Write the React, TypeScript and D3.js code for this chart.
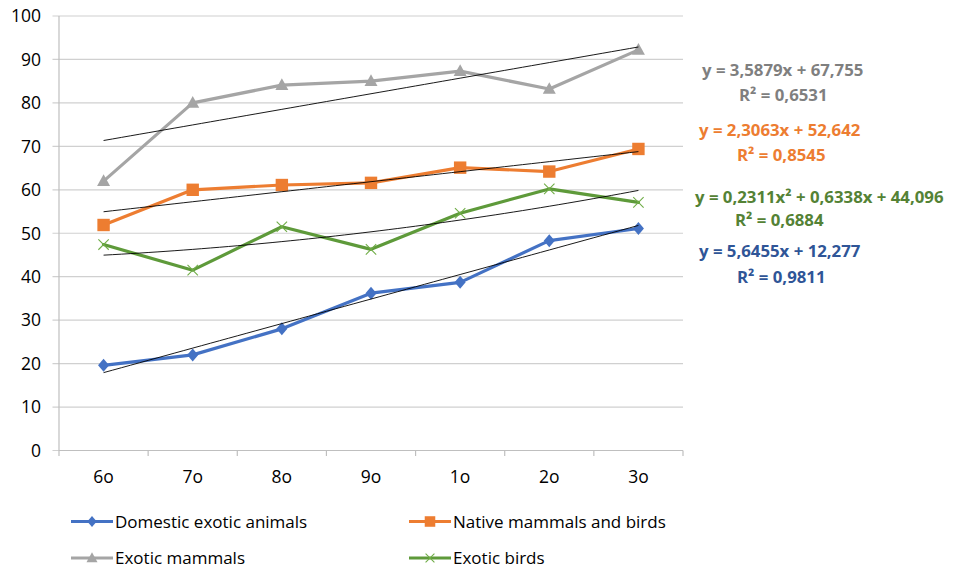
import React, { useEffect } from 'react';
import * as d3 from 'd3';

const categories = ['6o', '7o', '8o', '9o', '1o', '2o', '3o'];
const domesticExotic = [19.6, 22.0, 28.0, 36.2, 38.7, 48.3, 51.1];
const nativeMammalsBirds = [51.9, 60.0, 61.1, 61.6, 65.1, 64.2, 69.4];
const exoticMammals = [62.0, 80.0, 84.1, 85.0, 87.3, 83.2, 92.2];
const exoticBirds = [47.4, 41.5, 51.5, 46.3, 54.6, 60.2, 57.1];
const yTicks = [0, 10, 20, 30, 40, 50, 60, 70, 80, 90, 100];
const seriesNames = ['Domestic exotic animals', 'Native mammals and birds', 'Exotic mammals', 'Exotic birds'];
// trendline coefficients [x^2, x, const]
const trendDomestic = [0, 5.6455, 12.277];
const trendNative = [0, 2.3063, 52.642];
const trendExoticMammals = [0, 3.5879, 67.755];
const trendExoticBirds = [0.2311, 0.6338, 44.096];
const equations = ['y = 5,6455x + 12,277', 'y = 2,3063x + 52,642', 'y = 3,5879x + 67,755', 'y = 0,2311x² + 0,6338x + 44,096'];
const rSquared = ['R² = 0,9811', 'R² = 0,8545', 'R² = 0,6531', 'R² = 0,6884'];

const W = 954;
const H = 569;
const FONT = '"Open Sans", sans-serif';

const lineColors = ['#4472C4', '#ED7D31', '#A5A5A5', '#5E9A3A'];
const textColors = ['#2F5597', '#ED7D31', '#7F7F7F', '#548235'];
const markers = ['diamond', 'square', 'triangle', 'x'];
// equation label layout: [x line1, baseline line1, x line2, baseline line2]
const eqLayout = [
  [699, 257, 737, 283],
  [699, 136, 737, 161],
  [702, 76, 739, 101],
  [695, 203, 735, 226],
];
const legendLayout = [
  [71, 521.5],
  [409, 521.5],
  [71, 558],
  [409, 558],
];

function Marker({ type, x, y, color, s = 1 }: { type: string; x: number; y: number; color: string; s?: number }) {
  if (type === 'diamond') {
    const r = 6.5 * s;
    return <path d={`M${x},${y - r}L${x + r * 0.85},${y}L${x},${y + r}L${x - r * 0.85},${y}Z`} fill={color} />;
  }
  if (type === 'square') {
    const r = 6.2 * s;
    return <rect x={x - r} y={y - r} width={2 * r} height={2 * r} fill={color} />;
  }
  if (type === 'triangle') {
    const r = 6.5 * s;
    return <path d={`M${x},${y - r * 1.05}L${x + r},${y + r * 0.75}L${x - r},${y + r * 0.75}Z`} fill={color} />;
  }
  const r = 5.2 * s;
  return (
    <path
      d={`M${x - r},${y - r}L${x + r},${y + r}M${x - r},${y + r}L${x + r},${y - r}`}
      stroke="#70AD47"
      strokeWidth={1.1}
      fill="none"
    />
  );
}

export default function App() {
  useEffect(() => {
    document.body.style.margin = '0';
  }, []);

  const left = 59;
  const right = 683;
  const top = 16;
  const bottom = 450.5;

  const x = d3.scaleBand<string>().domain(categories).range([left, right]);
  const bw = x.bandwidth();
  const cx = (c: string) => (x(c) as number) + bw / 2;
  const xi = d3.scaleLinear().domain([1, categories.length]).range([cx(categories[0]), cx(categories[categories.length - 1])]);
  const y = d3.scaleLinear().domain([0, 100]).range([bottom, top]);

  const series = [domesticExotic, nativeMammalsBirds, exoticMammals, exoticBirds];
  const trends = [trendDomestic, trendNative, trendExoticMammals, trendExoticBirds];

  const line = d3
    .line<number>()
    .x((_, i) => cx(categories[i]))
    .y((d) => y(d));

  const samples = d3.range(1, categories.length + 0.0001, 0.1);

  const drawOrder = [2, 1, 3, 0];

  return (
    <svg width={W} height={H} style={{ display: 'block', background: '#fff' }} fontFamily={FONT}>
      {/* gridlines */}
      {yTicks.map((t) => (
        <line key={t} x1={left - 6.5} x2={right} y1={y(t)} y2={y(t)} stroke="#D0D0D0" strokeWidth={1.2} />
      ))}
      {/* y axis */}
      <line x1={left} x2={left} y1={top} y2={bottom} stroke="#BFBFBF" strokeWidth={1.2} />
      {/* x axis */}
      <line x1={left} x2={right} y1={bottom} y2={bottom} stroke="#BFBFBF" strokeWidth={1.2} />
      {categories.map((c, i) => (
        <line key={'tk' + i} x1={x(c) as number} x2={x(c) as number} y1={bottom} y2={bottom + 5.5} stroke="#BFBFBF" strokeWidth={1.2} />
      ))}
      <line x1={right} x2={right} y1={bottom} y2={bottom + 5.5} stroke="#BFBFBF" strokeWidth={1.2} />
      {yTicks.map((t) => (
        <text key={'yl' + t} x={41} y={y(t)} dy="0.36em" textAnchor="end" fontSize={17.5} fill="#000">
          {t}
        </text>
      ))}
      {categories.map((c) => (
        <text key={'xl' + c} x={cx(c)} y={483} textAnchor="middle" fontSize={17.5} fill="#000">
          {c}
        </text>
      ))}

      {/* series */}
      {drawOrder.map((si) => (
        <g key={'s' + si}>
          <path d={line(series[si]) as string} fill="none" stroke={lineColors[si]} strokeWidth={3.2} strokeLinejoin="round" strokeLinecap="round" />
          {series[si].map((v, i) => (
            <Marker key={i} type={markers[si]} x={cx(categories[i])} y={y(v)} color={lineColors[si]} />
          ))}
        </g>
      ))}

      {/* trendlines */}
      {trends.map((tc, si) => {
        const path = d3
          .line<number>()
          .x((t) => xi(t))
          .y((t) => y(tc[0] * t * t + tc[1] * t + tc[2]))(samples as number[]);
        return <path key={'tr' + si} d={path as string} fill="none" stroke="#000" strokeWidth={0.9} />;
      })}

      {/* equation labels */}
      {equations.map((eq, si) => (
        <g key={'eq' + si} fontWeight="bold" fontSize={16.8} fill={textColors[si]}>
          <text x={eqLayout[si][0]} y={eqLayout[si][1]}>{eq}</text>
          <text x={eqLayout[si][2]} y={eqLayout[si][3]}>{rSquared[si]}</text>
        </g>
      ))}

      {/* legend */}
      {seriesNames.map((n, si) => {
        const [lx, ly] = legendLayout[si];
        return (
          <g key={'lg' + si}>
            <line x1={lx} x2={lx + 42} y1={ly} y2={ly} stroke={lineColors[si]} strokeWidth={3.2} />
            <Marker type={markers[si]} x={lx + 21} y={ly} color={lineColors[si]} s={0.85} />
            <text x={lx + 44} y={ly} dy="0.36em" fontSize={17} fill="#000">
              {n}
            </text>
          </g>
        );
      })}
    </svg>
  );
}
